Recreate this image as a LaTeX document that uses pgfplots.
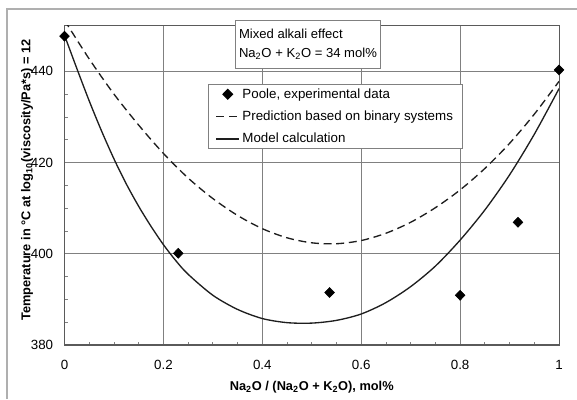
\documentclass[border=0pt]{standalone}
\usepackage{pgfplots}
\pgfplotsset{compat=1.18}
\usepackage{fontspec}
\setmainfont{Liberation Sans}
\definecolor{gridgray}{RGB}{128,128,128}
\definecolor{curve}{RGB}{30,30,30}
\definecolor{framegray}{RGB}{175,175,175}
\begin{document}
\begin{tikzpicture}
\useasboundingbox (0,0) rectangle (432.75pt,299.25pt);
\draw[framegray, line width=1.4pt] (5.25pt,0) -- (5.25pt,292.5pt) -- (432.75pt,292.5pt);
\begin{axis}[
  at={(48.375pt,40.5pt)}, anchor=south west,
  scale only axis, width=370.9pt, height=239.5pt,
  xmin=0, xmax=1, ymin=380, ymax=450,
  xtick={0,0.2,0.4,0.6,0.8,1}, ytick={380,400,420,440},
  minor x tick num=3, minor y tick num=3,
  tick align=inside, tick pos=left,
  major tick length=0pt, minor tick length=2.4pt,
  minor tick style={gridgray, line width=0.6pt},
  grid=major, major grid style={gridgray, line width=0.7pt},
  axis line style={gridgray!70!black, line width=0.8pt},
  /pgf/number format/assume math mode=true,
  ticklabel style={font=\fontsize{10}{12}\selectfont},
  yticklabel style={xshift=-5pt},
  xticklabel style={yshift=-8pt},
  xlabel={\bfseries Na\textsubscript{2}O / (Na\textsubscript{2}O + K\textsubscript{2}O), mol\%},
  ylabel={\bfseries Temperature in °C at log\textsubscript{10}(viscosity/Pa*s) = 12},
  label style={font=\fontsize{9.6}{11}\selectfont},
  xlabel style={at={(axis description cs:0.5,-0.1315)}, anchor=center},
  ylabel style={at={(axis description cs:-0.0758,0.517)}, anchor=center},
  legend cell align=left,
  legend style={at={(axis description cs:0.29,0.8174)}, anchor=north west,
    draw=gridgray, line width=0.7pt, fill=white,
    font=\fontsize{10}{12}\selectfont, row sep=4pt,
    inner xsep=5.5pt, inner ysep=1pt},
  clip=true,
]
\addplot[only marks, mark=diamond*, mark size=3.75pt, mark options={xscale=1.3, fill=black, draw=black}, color=black]
  coordinates {(0,447.7) (0.23,400.1) (0.536,391.5) (0.80,390.9) (0.917,406.9) (1.0,440.3)};
\addlegendentry{Poole, experimental data}
\addplot[curve, line width=1pt, dash pattern=on 6pt off 3.5pt, smooth, tension=0.5]
  coordinates {(0,451.2) (0.05,442.7) (0.10,435.0) (0.15,428.2) (0.20,422.0) (0.25,416.6) (0.30,412.1) (0.35,408.4) (0.40,405.5) (0.45,403.5) (0.50,402.4) (0.55,402.2) (0.60,402.9) (0.65,404.5) (0.70,406.9) (0.75,410.1) (0.80,414.0) (0.85,418.7) (0.90,424.2) (0.95,430.6) (1.0,437.8)};
\addlegendentry{Prediction based on binary systems}
\addplot[curve, line width=1pt, smooth, tension=0.5]
  coordinates {(0,447.9) (0.025,440.6) (0.05,433.5) (0.075,426.9) (0.10,420.8) (0.125,415.3) (0.15,410.4) (0.175,406.0) (0.20,402.0) (0.225,398.5) (0.25,395.5) (0.30,390.9) (0.35,387.8) (0.40,385.8) (0.45,384.9) (0.50,384.8) (0.55,385.4) (0.60,386.8) (0.65,389.3) (0.70,392.8) (0.75,397.3) (0.80,403.0) (0.85,409.6) (0.90,417.3) (0.95,426.2) (1.0,436.2)};
\addlegendentry{Model calculation}
\end{axis}
\node[draw=gridgray, line width=0.7pt, fill=white, anchor=north west, minimum width=108.75pt, minimum height=36pt,
  align=left, inner xsep=2pt, inner ysep=3pt, font=\fontsize{9.8}{14}\selectfont] at (176.25pt,284.25pt)
  {Mixed alkali effect\\Na\textsubscript{2}O + K\textsubscript{2}O = 34 mol\%};
\end{tikzpicture}
\end{document}
